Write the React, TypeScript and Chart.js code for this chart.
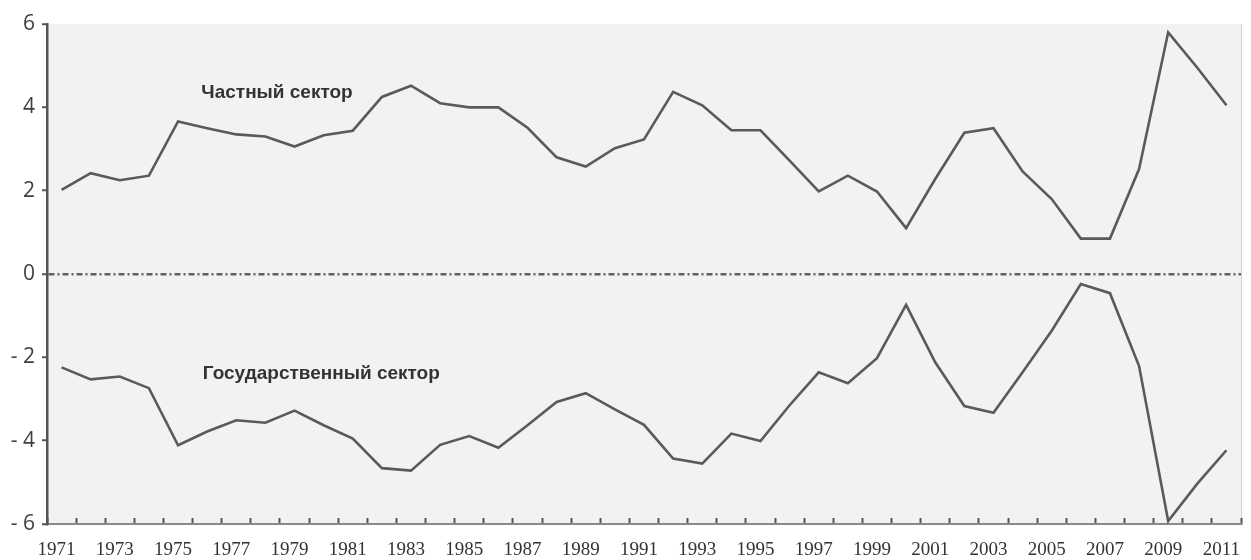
import React, { useEffect, useRef } from "react";
import { Chart, registerables } from "chart.js";

Chart.register(...registerables);

const years: string[] = [
  "1971","1972","1973","1974","1975","1976","1977","1978","1979","1980",
  "1981","1982","1983","1984","1985","1986","1987","1988","1989","1990",
  "1991","1992","1993","1994","1995","1996","1997","1998","1999","2000",
  "2001","2002","2003","2004","2005","2006","2007","2008","2009","2010","2011",
];

const privateSector: number[] = [
  2.02, 2.42, 2.25, 2.36, 3.66, 3.5, 3.35, 3.3, 3.06, 3.33,
  3.44, 4.25, 4.52, 4.1, 4.0, 4.0, 3.51, 2.8, 2.58, 3.02,
  3.23, 4.37, 4.05, 3.45, 3.45, 2.72, 1.98, 2.36, 1.98, 1.1,
  2.28, 3.39, 3.5, 2.46, 1.8, 0.85, 0.85, 2.52, 5.8, 4.95, 4.05,
];

const publicSector: number[] = [
  -2.24, -2.53, -2.46, -2.74, -4.11, -3.78, -3.51, -3.57, -3.28, -3.63,
  -3.95, -4.66, -4.72, -4.1, -3.89, -4.17, -3.63, -3.07, -2.86, -3.25,
  -3.62, -4.43, -4.55, -3.83, -4.01, -3.15, -2.36, -2.62, -2.02, -0.74,
  -2.12, -3.17, -3.33, -2.36, -1.36, -0.24, -0.46, -2.21, -5.93, -5.03, -4.23,
];

const yTicks: number[] = [-6, -4, -2, 0, 2, 4, 6];

const annotationTexts: string[] = ["Частный сектор", "Государственный сектор"];
const annotationIndex: number[] = [4.8, 4.85];
const annotationValue: number[] = [4.36, -2.4];

const bgPlugin = {
  id: "bgPlugin",
  beforeDraw(chart: any) {
    const { ctx, chartArea } = chart;
    ctx.save();
    ctx.fillStyle = "#f2f2f2";
    ctx.fillRect(chartArea.left, chartArea.top, chartArea.right - chartArea.left, chartArea.bottom - chartArea.top);
    ctx.strokeStyle = "#d0d0d0";
    ctx.lineWidth = 1;
    ctx.beginPath();
    ctx.moveTo(chartArea.right + 0.5, chartArea.top);
    ctx.lineTo(chartArea.right + 0.5, chartArea.bottom);
    ctx.stroke();
    ctx.restore();
  },
  afterDatasetsDraw(chart: any) {
    const { ctx } = chart;
    const xs = chart.scales.x;
    const ys = chart.scales.y;
    ctx.save();
    ctx.fillStyle = "#333333";
    ctx.font = "bold 19px 'Liberation Sans', Arial, sans-serif";
    ctx.textAlign = "left";
    ctx.textBaseline = "middle";
    annotationTexts.forEach((t, i) => {
      ctx.fillText(t, xs.getPixelForValue(annotationIndex[i]), ys.getPixelForValue(annotationValue[i]));
    });
    ctx.restore();
  },
};

export default function App() {
  const ref = useRef<HTMLCanvasElement | null>(null);

  useEffect(() => {
    document.body.style.margin = "0";
    if (!ref.current) return;
    const chart = new Chart(ref.current, {
      type: "line",
      data: {
        labels: years,
        datasets: [
          {
            label: "Частный сектор",
            data: privateSector,
            borderColor: "#5a5a5a",
            borderWidth: 2.6,
            pointRadius: 0,
            tension: 0,
          },
          {
            label: "Государственный сектор",
            data: publicSector,
            borderColor: "#5a5a5a",
            borderWidth: 2.6,
            pointRadius: 0,
            tension: 0,
          },
        ],
      },
      options: {
        animation: false,
        responsive: true,
        maintainAspectRatio: false,
        layout: { padding: { top: 24, right: 10, left: 0, bottom: 0 } },
        plugins: { legend: { display: false }, tooltip: { enabled: false } },
        scales: {
          x: {
            type: "category",
            offset: true,
            grid: {
              offset: true,
              drawOnChartArea: false,
              drawTicks: true,
              tickLength: -6,
              tickColor: "#555555",
              tickWidth: 2,
            },
            border: { display: true, color: "#8a8a8a", width: 2 },
            ticks: {
              autoSkip: false,
              maxRotation: 0,
              padding: 21,
              labelOffset: -5,
              color: "#333333",
              font: { family: "'Liberation Serif', 'Times New Roman', serif", size: 19 },
              callback: (_v: any, i: number) => (i % 2 === 0 ? years[i] : ""),
            },
            afterFit: (s: any) => {
              s.height = 36;
              s.paddingLeft = 0;
              s.paddingRight = 0;
            },
          },
          y: {
            min: -6,
            max: 6,
            afterBuildTicks: (s: any) => {
              s.ticks = yTicks.map((v) => ({ value: v }));
            },
            grid: {
              color: (c: any) => (c.tick && c.tick.value === 0 ? "#606060" : "rgba(0,0,0,0)"),
              lineWidth: 2.5,
              drawTicks: true,
              tickLength: 5,
              tickColor: "#555555",
              tickWidth: 2,
            },
            border: { display: true, color: "#555555", width: 2.5, dash: [6, 3, 2, 3] },
            ticks: {
              padding: 7,
              color: "#404040",
              font: { family: "'Open Sans', sans-serif", size: 21 },
              callback: (v: any) => (v < 0 ? "- " + Math.abs(v) : String(v)),
            },
            afterFit: (s: any) => {
              s.width = 47;
              s.paddingTop = 0;
              s.paddingBottom = 0;
            },
          },
        },
      },
      plugins: [bgPlugin],
    });
    return () => chart.destroy();
  }, []);

  return (
    <div style={{ position: "fixed", left: 0, top: 0, width: 1251, height: 560, background: "#ffffff" }}>
      <canvas ref={ref} />
    </div>
  );
}
